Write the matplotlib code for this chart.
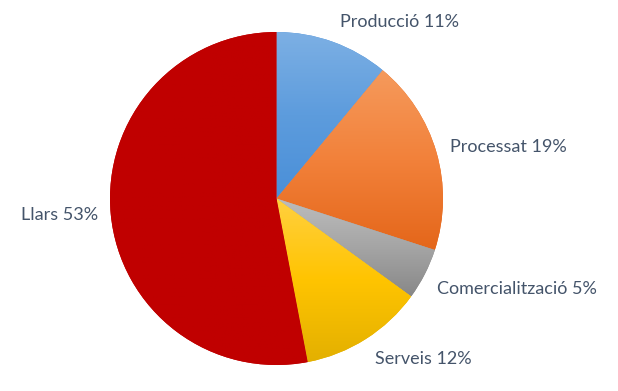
import numpy as np
import matplotlib.pyplot as plt
from matplotlib.colors import LinearSegmentedColormap

labels = ["Producció", "Processat", "Comercialització", "Serveis", "Llars"]
shares = [11, 19, 5, 12, 53]
# top / middle / bottom colours of each slice gradient
top_colors = ["#7DB0E4", "#F59A5C", "#BDBDBD", "#FFD040", "#C00000"]
mid_colors = ["#5D9CDD", "#F2813A", "#A5A5A5", "#FFC400", "#C00000"]
bottom_colors = ["#4A8FD8", "#E4661A", "#888888", "#E3B000", "#C00000"]
label_pos = [(400, 22), (508, 147), (517, 289), (423, 359), (60, 215)]

W, H = 618, 391
fig = plt.figure(figsize=(W / 100, H / 100), dpi=100)
cx, cy, r = 276.5, 198.5, 166.5
ax = fig.add_axes([(cx - r) / W, (H - cy - r) / H, 2 * r / W, 2 * r / H])

wedges, _ = ax.pie(shares, startangle=90, counterclock=False, radius=1,
                   center=(0, 0), wedgeprops=dict(linewidth=0))

for w, c0, cm, c1 in zip(wedges, top_colors, mid_colors, bottom_colors):
    w.set_facecolor(c1)
    ext = w.get_path().get_extents()
    cmap = LinearSegmentedColormap.from_list("g", [c1, cm, c0])
    grad = np.linspace(0, 1, 256).reshape(-1, 1)
    im = ax.imshow(grad, cmap=cmap, origin="lower", aspect="auto",
                   extent=[ext.x0, ext.x1, ext.y0, ext.y1], zorder=2)
    im.set_clip_path(w)
ax.set_xlim(-1, 1)
ax.set_ylim(-1, 1)
ax.axis("off")

for lab, s, (x, y) in zip(labels, shares, label_pos):
    fig.text(x / W, 1 - y / H, f"{lab} {s}%", ha="center", va="center",
             fontsize=13, color="#44546A", family=["Lato", "DejaVu Sans"])

fig.savefig("out.png", dpi=100)
